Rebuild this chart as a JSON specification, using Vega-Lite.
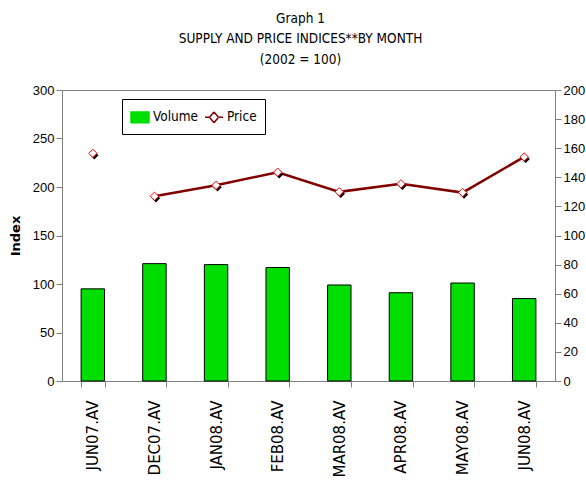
{
  "$schema": "https://vega.github.io/schema/vega-lite/v6.json",
  "autosize": {"type": "none"},
  "width": 493,
  "height": 291,
  "padding": {"left": 62, "top": 90, "right": 31, "bottom": 113},
  "background": "white",
  "config": {
    "view": {"stroke": "#808080", "strokeWidth": 1},
    "font": "Liberation Sans",
    "axis": {"grid": false, "domainColor": "#808080", "tickColor": "#808080", "labelColor": "black", "labelFont": "Liberation Sans", "labelFontSize": 13}
  },
  "title": {
    "text": ["Graph 1", "SUPPLY AND PRICE INDICES**BY MONTH", "(2002 = 100)"],
    "font": "DejaVu Sans Condensed, Liberation Sans",
    "fontSize": 13.5,
    "fontWeight": "normal",
    "lineHeight": 20.5,
    "anchor": "middle",
    "dx": -8,
    "offset": 18,
    "color": "black"
  },
  "data": {
    "values": [
      {"month": "JUN07.AV", "volume": 95, "price": 156.5, "seg": "a"},
      {"month": "DEC07.AV", "volume": 121, "price": 127, "seg": "b"},
      {"month": "JAN08.AV", "volume": 120, "price": 134.5, "seg": "b"},
      {"month": "FEB08.AV", "volume": 117, "price": 143.5, "seg": "b"},
      {"month": "MAR08.AV", "volume": 99, "price": 130, "seg": "b"},
      {"month": "APR08.AV", "volume": 91, "price": 135.5, "seg": "b"},
      {"month": "MAY08.AV", "volume": 101, "price": 129.5, "seg": "b"},
      {"month": "JUN08.AV", "volume": 85, "price": 154, "seg": "b"}
    ]
  },
  "encoding": {
    "x": {
      "field": "month", "type": "nominal", "sort": null,
      "scale": {"paddingInner": 0.62, "paddingOuter": 0.31},
      "axis": {"title": null, "labelAngle": -90, "labelFont": "DejaVu Sans", "labelFontSize": 15, "labelPadding": 13, "tickBand": "extent", "tickSize": 6}
    }
  },
  "layer": [
    {
      "mark": {"type": "bar", "stroke": "black", "strokeWidth": 1},
      "encoding": {
        "y": {
          "field": "volume", "type": "quantitative",
          "scale": {"domain": [0, 300]},
          "axis": {"title": "Index", "titleFont": "DejaVu Sans", "titleFontWeight": "bold", "titleFontSize": 13, "titleColor": "black", "titlePadding": 10, "values": [0, 50, 100, 150, 200, 250, 300], "tickSize": 6, "labelPadding": 2}
        },
        "color": {
          "datum": "Volume",
          "scale": {"domain": ["Volume", "Price"], "range": ["#00dd00", "#800000"]},
          "legend": {
            "title": null,
            "orient": "none",
            "legendX": 60,
            "legendY": 9,
            "direction": "horizontal",
            "fillColor": "white",
            "strokeColor": "black",
            "padding": 8,
            "labelFont": "DejaVu Sans Condensed, Liberation Sans",
            "labelFontSize": 13.5,
            "labelColor": "black",
            "columnPadding": 3,
            "symbolSize": 324,
            "labelOffset": 3,
            "encode": {
              "symbols": {
                "update": {
                  "shape": {"signal": "datum.value === 'Price' ? 'M-1,0H-0.5M0,-0.6L0.5,0M0.5,0L0,0.6M0,0.6L-0.5,0M-0.5,0L0,-0.6M0.5,0H1' : 'M-1,-0.6H1V0.6H-1Z'"},
                  "stroke": {"signal": "datum.value === 'Price' ? '#a00000' : 'black'"},
                  "strokeWidth": {"value": 1.5},
                  "opacity": {"value": 1},
                  "fillOpacity": {"value": 1}
                }
              }
            }
          }
        }
      }
    },
    {
      "transform": [{"filter": "datum.seg === 'b'"}],
      "mark": {"type": "line", "strokeWidth": 2.5},
      "encoding": {
        "y": {"field": "price", "type": "quantitative", "scale": {"domain": [0, 200]}, "axis": null},
        "color": {
          "datum": "Price",
          "legend": {
            "title": null,
            "orient": "none",
            "legendX": 60,
            "legendY": 9,
            "direction": "horizontal",
            "fillColor": "white",
            "strokeColor": "black",
            "padding": 8,
            "labelFont": "DejaVu Sans Condensed, Liberation Sans",
            "labelFontSize": 13.5,
            "labelColor": "black",
            "columnPadding": 3,
            "symbolSize": 324,
            "labelOffset": 3,
            "encode": {
              "symbols": {
                "update": {
                  "shape": {"signal": "datum.value === 'Price' ? 'M-1,0H-0.5M0,-0.6L0.5,0M0.5,0L0,0.6M0,0.6L-0.5,0M-0.5,0L0,-0.6M0.5,0H1' : 'M-1,-0.6H1V0.6H-1Z'"},
                  "stroke": {"signal": "datum.value === 'Price' ? '#a00000' : 'black'"},
                  "strokeWidth": {"value": 1.5},
                  "opacity": {"value": 1},
                  "fillOpacity": {"value": 1}
                }
              }
            }
          }
        }
      }
    },
    {
      "mark": {"type": "point", "shape": "diamond", "size": 70, "filled": true, "fill": "black", "xOffset": 1.5, "yOffset": 2, "opacity": 1},
      "encoding": {
        "y": {"field": "price", "type": "quantitative", "scale": {"domain": [0, 200]}, "axis": null}
      }
    },
    {
      "mark": {"type": "point", "shape": "diamond", "size": 70, "filled": true, "fill": "white", "stroke": "#ff0000", "strokeWidth": 1, "opacity": 1},
      "encoding": {
        "y": {
          "field": "price", "type": "quantitative",
          "scale": {"domain": [0, 200]},
          "axis": {"orient": "right", "title": null, "values": [0, 20, 40, 60, 80, 100, 120, 140, 160, 180, 200], "tickSize": 6, "labelPadding": 2}
        }
      }
    }
  ],
  "resolve": {"scale": {"y": "independent"}}
}
